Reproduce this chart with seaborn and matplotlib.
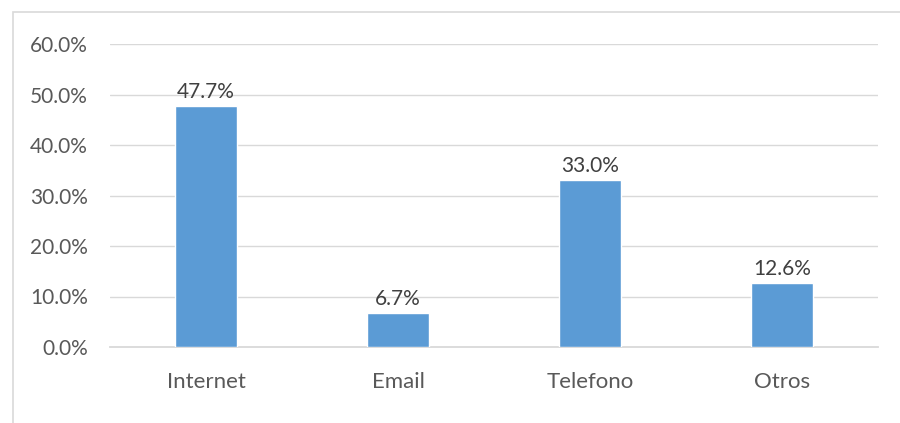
import matplotlib
matplotlib.use("Agg")
import matplotlib.pyplot as plt
import seaborn as sns
import pandas as pd
from matplotlib.patches import Rectangle

categories = ["Internet", "Email", "Telefono", "Otros"]
values = [0.477, 0.067, 0.330, 0.126]
tick_vals = [0.0, 0.1, 0.2, 0.3, 0.4, 0.5, 0.6]

sns.set_theme(style="white")
plt.rcParams['font.family'] = ['Lato', 'DejaVu Sans']

df = pd.DataFrame({"cat": categories, "val": values})

fig = plt.figure(figsize=(9, 4.23), dpi=100)
ax = fig.add_axes([110/900, 1-347/423, (878-110)/900, (347-44)/423])

sns.barplot(data=df, x="cat", y="val", color="#5B9BD5", width=0.32, ax=ax,
            saturation=1, zorder=3)

ax.set_ylim(0, 0.6)
ax.set_xlim(-0.5, 3.5)
ax.set_yticks(tick_vals)
ax.set_yticklabels([f"{v*100:.1f}%" for v in tick_vals])
ax.set_xlabel("")
ax.set_ylabel("")
for v in tick_vals[1:]:
    ax.axhline(v, color="#d9d9d9", lw=1, zorder=1)
for s in ["top", "right", "left"]:
    ax.spines[s].set_visible(False)
ax.spines["bottom"].set_color("#d9d9d9")
ax.spines["bottom"].set_linewidth(1.3)
ax.tick_params(axis="y", length=0, labelsize=15, colors="#595959", pad=16)
ax.tick_params(axis="x", length=0, labelsize=16, colors="#595959", pad=18)

for i, v in enumerate(values):
    ax.text(i, v + 0.008, f"{v*100:.1f}%", ha="center", va="bottom",
            fontsize=15, color="#404040")

fig.patches.append(Rectangle((13/900, -0.1), 1.2, 1 - 12/423 + 0.1,
                             transform=fig.transFigure, fill=False,
                             edgecolor="#d9d9d9", lw=1.2))

fig.savefig("out.png", dpi=100)
